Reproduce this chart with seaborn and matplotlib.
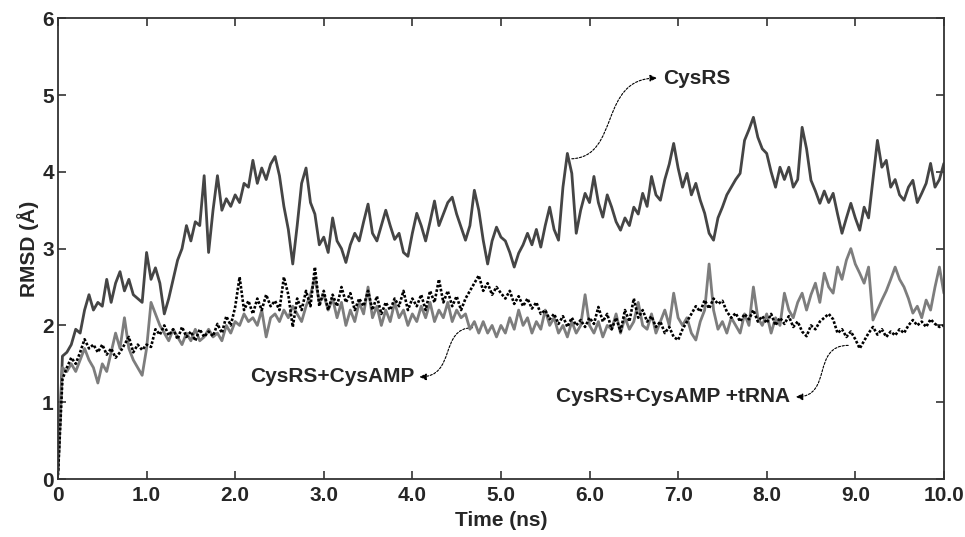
import numpy as np
import pandas as pd
import matplotlib
matplotlib.use("Agg")
import matplotlib.pyplot as plt
from matplotlib.path import Path
from matplotlib.patches import FancyArrowPatch
import seaborn as sns

# time axis (ns), one reading every 0.05 ns
time_ns = np.round(np.arange(0, 10.0001, 0.05), 2)

# CysRS (dark grey trace)
rmsd_cysrs = [
    0.1, 1.6, 1.65, 1.75, 1.95, 1.9, 2.2, 2.4, 2.2, 2.3, 2.25, 2.6, 2.3, 2.55, 2.7, 2.45, 2.6, 2.4, 2.35, 2.3,
    2.95, 2.6, 2.75, 2.55, 2.15, 2.35, 2.6, 2.85, 3.0, 3.3, 3.1, 3.35, 3.3, 3.95, 2.95, 3.5, 3.95, 3.5, 3.65, 3.55,
    3.7, 3.6, 3.85, 3.8, 4.15, 3.85, 4.05, 3.9, 4.1, 4.2, 3.95, 3.55, 3.25, 2.8, 3.3, 3.85, 4.05, 3.6, 3.45, 3.05,
    3.15, 2.95, 3.4, 3.1, 3.0, 2.82, 3.05, 3.2, 3.1, 3.35, 3.58, 3.2, 3.1, 3.3, 3.5, 3.3, 3.12, 3.2, 2.95, 2.9,
    3.2, 3.46, 3.3, 3.1, 3.35, 3.62, 3.3, 3.45, 3.6, 3.67, 3.45, 3.28, 3.11, 3.3, 3.76, 3.5, 3.11, 2.8, 3.1, 3.28,
    3.15, 3.1, 2.95, 2.76, 2.94, 3.05, 3.2, 3.05, 3.25, 3.02, 3.3, 3.54, 3.25, 3.11, 3.8, 4.24, 3.98, 3.2, 3.5, 3.72,
    3.6, 3.94, 3.6, 3.41, 3.7, 3.54, 3.35, 3.24, 3.4, 3.3, 3.54, 3.45, 3.72, 3.55, 3.94, 3.7, 3.63, 3.9, 4.1, 4.37,
    4.05, 3.8, 3.98, 3.7, 3.85, 3.63, 3.46, 3.2, 3.11, 3.4, 3.54, 3.7, 3.8, 3.9, 3.98, 4.41, 4.55, 4.71, 4.45, 4.3,
    4.24, 4.0, 3.8, 4.06, 3.9, 4.06, 3.8, 3.9, 4.58, 4.3, 3.89, 3.75, 3.59, 3.75, 3.6, 3.72, 3.45, 3.2, 3.4, 3.59,
    3.4, 3.24, 3.54, 3.4, 3.9, 4.41, 4.06, 4.15, 3.8, 3.9, 3.7, 3.63, 3.8, 3.89, 3.6, 3.72, 3.85, 4.11, 3.8, 3.9,
    4.11,
]

# CysRS+CysAMP (mid grey trace)
rmsd_cysamp = [
    0.1, 1.45, 1.4, 1.5, 1.4, 1.55, 1.7, 1.55, 1.45, 1.25, 1.5, 1.4, 1.65, 1.9, 1.7, 2.1, 1.7, 1.55, 1.45, 1.35,
    1.7, 2.3, 2.15, 2.0, 1.9, 1.8, 1.95, 1.85, 1.75, 1.9, 1.8, 1.95, 1.8, 1.85, 1.95, 1.85, 1.9, 1.8, 2.0, 1.9,
    2.05, 2.0, 2.15, 2.05, 2.1, 2.0, 2.2, 1.85, 2.1, 2.15, 2.05, 2.2, 2.1, 2.25, 2.15, 2.05, 2.25, 2.4, 2.62, 2.3,
    2.4, 2.2, 2.35, 2.1, 2.3, 2.0, 2.2, 2.05, 2.3, 2.15, 2.5, 2.1, 2.25, 2.0, 2.2, 2.05, 2.3, 2.1, 2.2, 2.0,
    2.15, 2.05, 2.25, 2.1, 2.3, 2.05, 2.2, 2.1, 2.3, 2.05, 2.2, 2.1, 2.15, 1.95, 2.05, 1.9, 2.05, 1.9, 2.0, 1.85,
    2.0, 1.9, 2.1, 1.95, 2.2, 2.0, 2.1, 1.9, 2.05, 1.95, 2.2, 2.0, 2.1, 1.9, 2.0, 1.85, 2.05, 1.9, 2.0, 2.4,
    2.0, 1.9, 2.05, 1.85, 2.0, 1.95, 2.15, 1.9, 2.1, 1.95, 2.05, 2.3, 2.0, 1.95, 2.15, 1.9, 2.05, 2.2, 2.0, 2.42,
    2.1, 2.0, 2.1, 1.9, 1.81, 2.05, 2.2, 2.8, 2.2, 1.95, 2.05, 1.9, 2.1, 2.0, 1.9, 2.15, 2.0, 2.5, 2.1, 2.0,
    2.15, 1.9, 2.1, 2.0, 2.42, 2.2, 2.1, 2.3, 2.42, 2.2, 2.4, 2.55, 2.3, 2.68, 2.5, 2.42, 2.76, 2.6, 2.85, 3.0,
    2.8, 2.68, 2.55, 2.76, 2.07, 2.2, 2.33, 2.45, 2.6, 2.76, 2.6, 2.5, 2.35, 2.16, 2.25, 2.1, 2.33, 2.2, 2.5, 2.76,
    2.42,
]

# CysRS+CysAMP+tRNA (black dotted trace)
rmsd_trna = [
    0.05, 1.3, 1.45, 1.58, 1.5, 1.65, 1.82, 1.7, 1.75, 1.65, 1.75, 1.62, 1.7, 1.58, 1.65, 1.75, 1.85, 1.65, 1.75, 1.68,
    1.75, 1.72, 1.95, 1.88, 2.0, 1.87, 1.95, 1.82, 1.98, 1.85, 1.92, 1.8, 1.95, 1.85, 1.92, 1.86, 2.02, 1.9, 2.12, 2.0,
    2.24, 2.63, 2.2, 2.32, 2.15, 2.35, 2.2, 2.4, 2.25, 2.32, 2.2, 2.63, 2.4, 1.98, 2.35, 2.2, 2.45, 2.25, 2.76, 2.25,
    2.45, 2.2, 2.4, 2.25, 2.5, 2.3, 2.42, 2.2, 2.35, 2.25, 2.45, 2.2, 2.38, 2.15, 2.3, 2.2, 2.35, 2.25, 2.45, 2.2,
    2.35, 2.25, 2.4, 2.2, 2.45, 2.3, 2.6, 2.3, 2.45, 2.25, 2.38, 2.2, 2.35, 2.45, 2.55, 2.65, 2.45, 2.55, 2.4, 2.5,
    2.42, 2.35, 2.45, 2.28, 2.38, 2.25, 2.35, 2.22, 2.3, 2.15, 2.2, 2.08, 2.15, 2.02, 2.12, 1.98, 2.1, 2.0, 2.07, 1.98,
    2.1, 2.02, 2.24, 2.05, 2.15, 1.95, 2.1, 1.92, 2.2, 2.05, 2.35, 2.1, 2.2, 2.05, 2.12, 1.98, 2.05, 1.9, 1.98, 1.85,
    1.81, 1.95, 2.05, 2.15, 2.25, 2.18, 2.33, 2.22, 2.35, 2.28, 2.32, 2.18, 2.1, 2.16, 2.05, 2.15, 2.08, 2.2, 2.05, 2.12,
    2.03, 2.15, 2.0, 2.1, 2.02, 2.12, 1.98, 2.05, 1.92, 1.86, 2.0, 1.95, 2.05, 2.1, 2.15, 2.08, 1.9, 1.95, 1.85, 1.92,
    1.82, 1.7, 1.8, 1.9, 1.98, 1.88, 1.95, 1.85, 1.92, 1.87, 1.95, 1.9, 2.0, 2.07, 2.0, 2.05, 1.98, 2.08, 2.02, 1.98,
    2.0,
]

x_ticks = [0, 1, 2, 3, 4, 5, 6, 7, 8, 9, 10]
x_tick_labels = ["0", "1.0", "2.0", "3.0", "4.0", "5.0", "6.0", "7.0", "8.0", "9.0", "10.0"]
y_ticks = [0, 1, 2, 3, 4, 5, 6]

df = pd.DataFrame({
    "time": time_ns,
    "CysRS": rmsd_cysrs,
    "CysRS+CysAMP": rmsd_cysamp,
    "CysRS+CysAMP+tRNA": rmsd_trna,
})

sns.set_style("ticks")
plt.rcParams["font.family"] = ["Liberation Sans", "DejaVu Sans"]
plt.rcParams["font.weight"] = "bold"

fig = plt.figure(figsize=(9.65, 5.37), dpi=100)
ax = fig.add_axes([0.0601, 0.108, 0.918, 0.858])

sns.lineplot(data=df, x="time", y="CysRS", ax=ax, color="#454545", lw=2.0, estimator=None)
sns.lineplot(data=df, x="time", y="CysRS+CysAMP", ax=ax, color="#7d7d7d", lw=2.0, estimator=None)
sns.lineplot(data=df, x="time", y="CysRS+CysAMP+tRNA", ax=ax, color="black", lw=1.9,
             linestyle=(0, (1, 0.7)), estimator=None)

ax.set_xlim(0, 10)
ax.set_ylim(0, 6)
ax.set_xticks(x_ticks)
ax.set_xticklabels(x_tick_labels)
ax.set_yticks(y_ticks)
ax.tick_params(direction="in", top=True, right=True, length=6, width=1.2,
               labelsize=15, color="#333333")
ax.tick_params(axis="x", pad=5)
ax.tick_params(axis="y", pad=3)
for lab in ax.get_xticklabels() + ax.get_yticklabels():
    lab.set_fontweight("bold")
for sp in ax.spines.values():
    sp.set_linewidth(1.3)
    sp.set_color("#333333")

ax.set_xlabel("Time (ns)", fontsize=15, fontweight="bold", labelpad=4)
ax.set_ylabel("RMSD (Å)", fontsize=15, fontweight="bold", labelpad=2)


def curvy_arrow(p0, p1, p2, p3):
    path = Path([p0, p1, p2, p3], [Path.MOVETO, Path.CURVE4, Path.CURVE4, Path.CURVE4])
    arr = FancyArrowPatch(path=path, arrowstyle="-|>,head_length=4,head_width=2",
                          color="black", lw=0.8, linestyle=(0, (2, 1.5)),
                          transform=ax.transData)
    ax.add_patch(arr)


# labels with dashed S-shaped pointers
ax.text(6.83, 5.22, "CysRS", fontsize=15, fontweight="bold", va="center", ha="left")
curvy_arrow((5.8, 4.17), (6.35, 4.2), (6.1, 5.22), (6.76, 5.22))

ax.text(4.02, 1.33, "CysRS+CysAMP", fontsize=15, fontweight="bold", va="center", ha="right")
curvy_arrow((4.68, 1.97), (4.3, 1.97), (4.5, 1.33), (4.08, 1.33))

ax.text(8.27, 1.07, "CysRS+CysAMP +tRNA", fontsize=15, fontweight="bold", va="center", ha="right")
curvy_arrow((8.92, 1.74), (8.5, 1.74), (8.75, 1.07), (8.33, 1.07))

fig.savefig("out.png", dpi=100)
